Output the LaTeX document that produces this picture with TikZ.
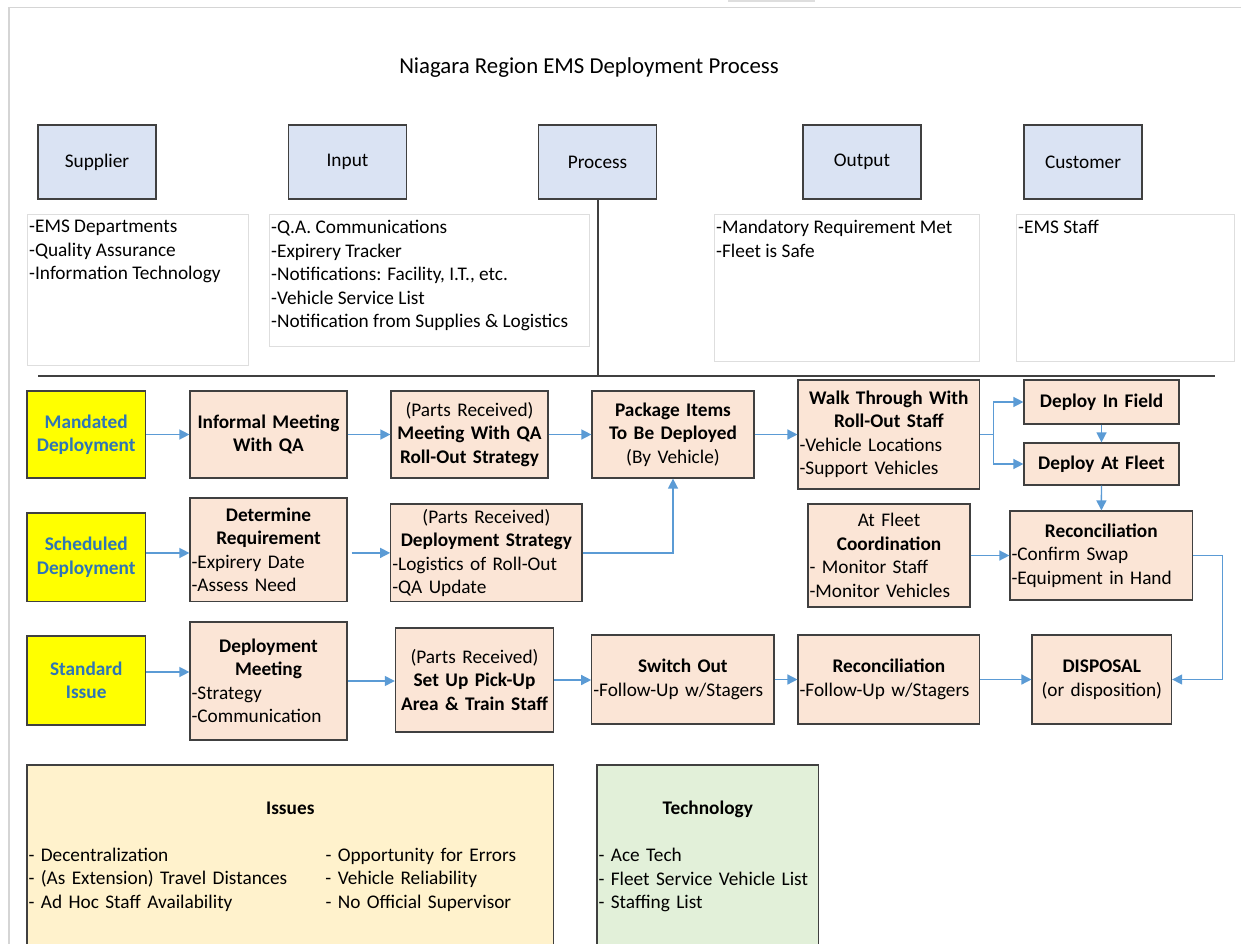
\documentclass[tikz,border=0pt]{standalone}
\usepackage{fontspec}
\setmainfont{Carlito}
\usepackage{tikz}
\usetikzlibrary{arrows.meta}
\definecolor{hdrfill}{RGB}{218,227,243}
\definecolor{procfill}{RGB}{251,229,214}
\definecolor{modefill}{RGB}{255,255,0}
\definecolor{modetext}{RGB}{46,117,182}
\definecolor{flowblue}{RGB}{91,155,213}
\definecolor{issuefill}{RGB}{255,242,204}
\definecolor{techfill}{RGB}{226,240,217}
\definecolor{edgegray}{RGB}{64,64,64}
\definecolor{faint}{RGB}{222,222,222}
\setlength{\parindent}{0pt}
\newcommand{\bodyfont}{\fontsize{19.3pt}{23.5pt}\selectfont}
\newcommand{\ctrln}[1]{\leavevmode\hbox to \hsize{\hss#1\hss}}
\newcommand{\twocol}[2]{\leavevmode\hbox to \hsize{\makebox[297pt][l]{#1}#2\hss}}

\begin{document}
\begin{tikzpicture}[
  hdrbox/.style={draw=edgegray, fill=hdrfill, line width=1.2pt, minimum width=118pt, minimum height=74pt, font=\bodyfont},
  listbox/.style={draw=faint, line width=0.8pt, anchor=north west, inner sep=0pt},
  listtxt/.style={anchor=north west, align=left, inner xsep=2pt, inner ysep=6pt, font=\bodyfont},
  modebox/.style={draw=edgegray, fill=modefill, line width=1.2pt, text=modetext, font=\bodyfont\bfseries, align=center, minimum width=118.5pt},
  procbox/.style 2 args={draw=edgegray, fill=procfill, line width=1.2pt, font=\bodyfont, align=left, inner xsep=1.5pt, inner ysep=0pt, text width=#1pt, minimum height=#2pt},
  flow/.style={draw=flowblue, line width=1.4pt, -{Triangle[length=10pt,width=10pt]}},
  rule/.style={draw=edgegray, line width=2pt}]
\useasboundingbox (0pt,0pt) rectangle (1241pt,-944pt);
% page frame
\draw [faint!90!gray, line width=1.5pt] (9pt,-944pt) -- (9pt,-7.3pt) -- (1241pt,-7.3pt);
\fill [faint] (728pt,0pt) rectangle (815pt,-2.5pt);
\node (title) [font=\fontsize{22.8pt}{26pt}\selectfont] at (589pt,-68pt) {Niagara Region EMS Deployment Process};
% SIPOC headers
\node (sup) [hdrbox] at (97pt,-162pt) {Supplier};
\node (inp) [hdrbox] at (347.5pt,-162pt) {Input};
\node (prc) [hdrbox] at (597.5pt,-162pt) {Process};
\node (outp) [hdrbox] at (862pt,-162pt) {Output};
\node (cust) [hdrbox] at (1083pt,-162pt) {Customer};
\node (suplist) [listbox, minimum width=221pt, minimum height=151pt] at (27pt,-214pt) {};
\node (inplist) [listbox, minimum width=320pt, minimum height=132pt] at (269pt,-214pt) {};
\node (outlist) [listbox, minimum width=265pt, minimum height=147pt] at (714pt,-214pt) {};
\node (custlist) [listbox, minimum width=218pt, minimum height=147pt] at (1016pt,-214pt) {};
\node (suptxt) [listtxt] at (suplist.north west) {-EMS Departments\\-Quality Assurance\\-Information Technology};
\node (inptxt) [listtxt] at (inplist.north west) {-Q.A. Communications\\-Expirery Tracker\\-Notifications: Facility, I.T., etc.\\-Vehicle Service List\\-Notification from Supplies \& Logistics};
\node (outtxt) [listtxt] at (outlist.north west) {-Mandatory Requirement Met\\-Fleet is Safe};
\node (custtxt) [listtxt] at (custlist.north west) {-EMS Staff};
\coordinate (rulel) at (38pt,-375.5pt);
\coordinate (ruler) at (1215pt,-375.5pt);
\draw [rule] (rulel) -- (ruler);
\draw [rule] (prc.south) -- (prc.south |- rulel);
% row 1
\node (mand) [modebox, minimum height=87pt] at (86.2pt,-434.5pt) {Mandated\\Deployment};
\node (informal) [procbox={154}{87}, align=center] at (268.5pt,-434.5pt) {\textbf{Informal Meeting}\\\textbf{With QA}};
\node (qameet) [procbox={154}{87}, align=center] at (469.5pt,-434.5pt) {(Parts Received)\\\textbf{Meeting With QA}\\\textbf{Roll-Out Strategy}};
\node (pack) [procbox={159}{87}, align=center] at (673pt,-434.5pt) {\textbf{Package Items}\\\textbf{To Be Deployed}\\(By Vehicle)};
\node (walk) [procbox={178.5}{109}] at (888.8pt,-434.5pt) {\ctrln{\textbf{Walk Through With}}\\\ctrln{\textbf{Roll-Out Staff}}\\-Vehicle Locations\\-Support Vehicles};
\node (field) [procbox={152}{44}, align=center] at (1101.5pt,-402pt) {\textbf{Deploy In Field}};
\node (fleet) [procbox={152}{42}, align=center] at (1101.5pt,-464pt) {\textbf{Deploy At Fleet}};
% row 2
\node (sched) [modebox, minimum height=88.7pt] at (86.2pt,-557.4pt) {Scheduled\\Deployment};
\node (determ) [procbox={154}{103.7}] at (268.5pt,-549.9pt) {\ctrln{\textbf{Determine}}\\\ctrln{\textbf{Requirement}}\\-Expirery Date\\-Assess Need};
\node (depstrat) [procbox={188.3}{97.7}] at (486.4pt,-552.9pt) {\ctrln{(Parts Received)}\\\ctrln{\textbf{Deployment Strategy}}\\-Logistics of Roll-Out\\-QA Update};
\node (coord) [procbox={159}{103}] at (889pt,-555.5pt) {\ctrln{At Fleet}\\\ctrln{\textbf{Coordination}}\\- Monitor Staff\\-Monitor Vehicles};
\node (recon) [procbox={179.6}{89}] at (1101.3pt,-555.5pt) {\ctrln{\textbf{Reconciliation}}\\-Confirm Swap\\-Equipment in Hand};
% row 3
\node (std) [modebox, minimum height=89pt] at (86.2pt,-680.5pt) {Standard\\Issue};
\node (depmeet) [procbox={154}{118}] at (268.5pt,-681pt) {\ctrln{\textbf{Deployment}}\\\ctrln{\textbf{Meeting}}\\-Strategy\\-Communication};
\node (setup) [procbox={155.2}{104}, align=center] at (474.5pt,-680pt) {(Parts Received)\\\textbf{Set Up Pick-Up}\\\textbf{Area \& Train Staff}};
\node (switch) [procbox={179.2}{89}] at (682.9pt,-679.5pt) {\ctrln{\textbf{Switch Out}}\\-Follow-Up w/Stagers};
\node (recontwo) [procbox={178.7}{89}] at (888.9pt,-679.5pt) {\ctrln{\textbf{Reconciliation}}\\-Follow-Up w/Stagers};
\node (disp) [procbox={136.5}{89}, align=center] at (1101.8pt,-679.5pt) {\textbf{DISPOSAL}\\(or disposition)};
% issues and technology
\node (issues) [procbox={523.6}{183}, fill=issuefill] at (290.3pt,-856.5pt) {\ctrln{\textbf{Issues}}\\[23.5pt]\twocol{- Decentralization}{- Opportunity for Errors}\\\twocol{- (As Extension) Travel Distances}{- Vehicle Reliability}\\\twocol{- Ad Hoc Staff Availability}{- No Official Supervisor}};
\node (tech) [procbox={218.6}{183}, fill=techfill] at (707.8pt,-856.5pt) {\ctrln{\textbf{Technology}}\\[23.5pt]- Ace Tech\\- Fleet Service Vehicle List\\- Staffing List};
% flows
\draw [flow] (mand) -- (informal);
\draw [flow] (informal) -- (qameet);
\draw [flow] (qameet) -- (pack);
\draw [flow] (pack) -- (walk);
\draw [flow] (walk.east) -- ++(13.5pt,0pt) |- (field.west);
\draw [flow] (walk.east) -- ++(13.5pt,0pt) |- (fleet.west);
\draw [flow] (field) -- (fleet);
\draw [flow] (fleet) -- (recon);
\draw [flow] ([yshift=4.4pt]sched.east) -- ([yshift=4.4pt]sched.east -| determ.west);
\draw [flow] ([xshift=4pt,yshift=-3pt]determ.east) -- (depstrat.west);
\draw [flow] (depstrat.east) -| (pack.south);
\draw [flow] (coord) -- (recon);
\draw [flow] (recon.east) -- ++(29.4pt,0pt) |- (disp.east);
\draw [flow] ([yshift=8.5pt]std.east) -- ([yshift=8.5pt]std.east -| depmeet.west);
\draw [flow] (depmeet.east) -- (depmeet.east -| setup.west);
\draw [flow] (setup.east) -- (setup.east -| switch.west);
\draw [flow] (switch) -- (recontwo);
\draw [flow] (recontwo) -- (disp);
\end{tikzpicture}
\end{document}
